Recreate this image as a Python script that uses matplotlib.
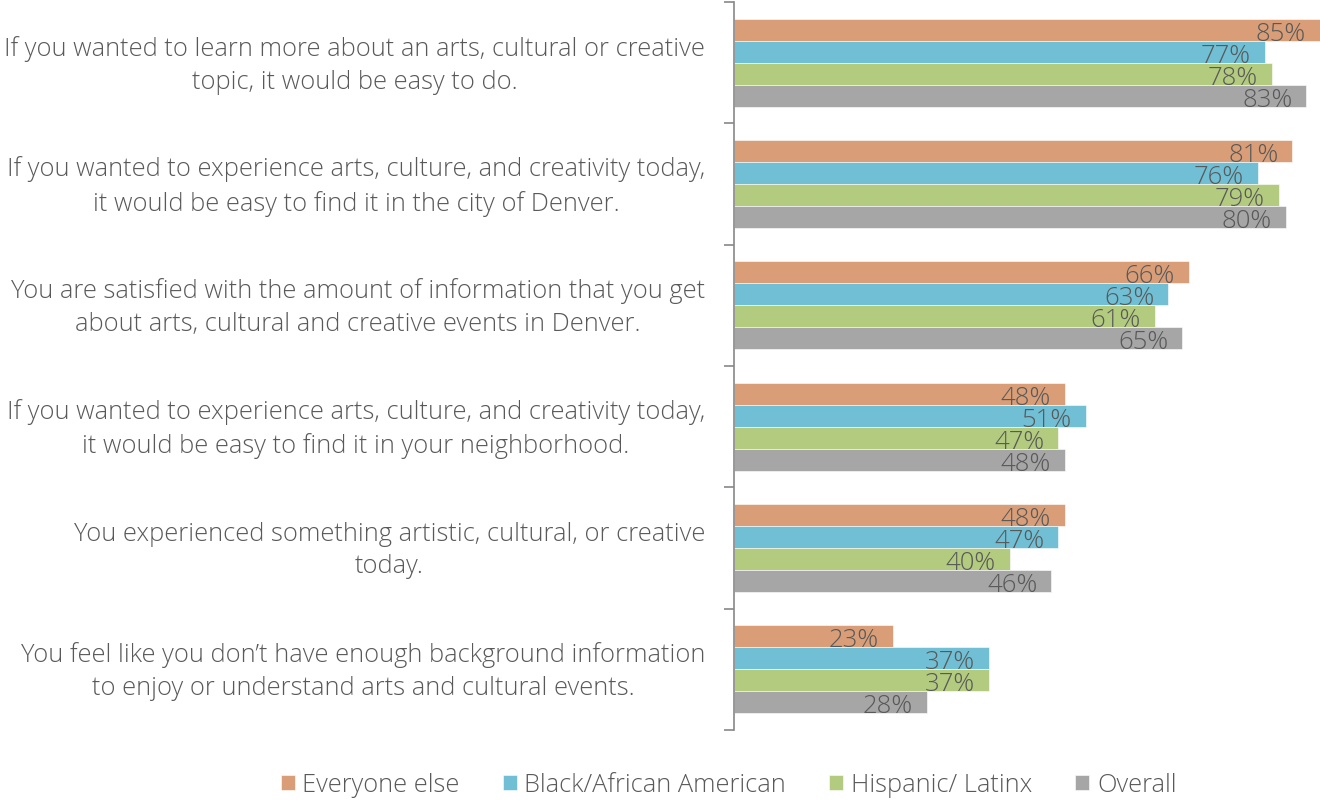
import matplotlib.pyplot as plt
import numpy as np

plt.rcParams['font.family'] = ['Open Sans', 'DejaVu Sans']
plt.rcParams['font.weight'] = 'light'

questions = [
    'If you wanted to learn more about an arts, cultural or creative\ntopic, it would be easy to do.',
    'If you wanted to experience arts, culture, and creativity today,\nit would be easy to find it in the city of Denver.',
    'You are satisfied with the amount of information that you get\nabout arts, cultural and creative events in Denver.',
    'If you wanted to experience arts, culture, and creativity today,\nit would be easy to find it in your neighborhood.',
    'You experienced something artistic, cultural, or creative\ntoday.',
    'You feel like you don\u2019t have enough background information\nto enjoy or understand arts and cultural events.',
]
series = ['Everyone else', 'Black/African American', 'Hispanic/ Latinx', 'Overall']
everyone_else = [85, 81, 66, 48, 48, 23]
black_aa = [77, 76, 63, 51, 47, 37]
hispanic = [78, 79, 61, 47, 40, 37]
overall = [83, 80, 65, 48, 46, 28]
colors = ['#D99E78', '#70BFD4', '#B3CB7E', '#A6A6A6']

values = [everyone_else, black_aa, hispanic, overall]

fig = plt.figure(figsize=(13.2, 8.03), dpi=100)
ax = fig.add_axes([734 / 1320, 1 - 731 / 803, 1 - 734 / 1320, 728 / 803])

n = len(questions)
ypos = np.arange(n)
h = 0.182
for i, (vals, c, name) in enumerate(zip(values, colors, series)):
    y = ypos - 1.5 * h + i * h
    bars = ax.barh(y, vals, height=h, color=c, label=name, edgecolor='white', linewidth=0.4)
    for b, v in zip(bars, vals):
        ax.annotate(f'{v}%', (v, b.get_y() + h / 2), xytext=(-10, -2.5), textcoords='offset points',
                    ha='right', va='center', fontsize=18.5, color='#595959')

# question labels next to each group
for yq, q in zip(ypos, questions):
    ax.annotate(q, (0, yq), xycoords=('axes fraction', 'data'), xytext=(-29, -1.5),
                textcoords='offset pixels', ha='right', va='center', multialignment='center',
                fontsize=18.4, color='#595959', linespacing=1.42, annotation_clip=False)

ax.set_xlim(0, 85)
ax.set_ylim(n - 0.5, -0.5)
ax.set_yticks(np.arange(-0.5, n, 1))
ax.set_yticklabels([])
ax.tick_params(axis='y', which='major', length=7, color='#878787', width=1.2)
ax.set_xticks([])
for s in ['top', 'right', 'bottom']:
    ax.spines[s].set_visible(False)
ax.spines['left'].set_color('#878787')
ax.spines['left'].set_linewidth(1.2)

fig.legend(loc='center', bbox_to_anchor=(0.552, 1 - 786 / 803), ncol=4, frameon=False,
           fontsize=18.3, labelcolor='#595959', handlelength=0.55, handleheight=0.55,
           handletextpad=0.3, columnspacing=1.7)

fig.savefig('out.png', dpi=100)
